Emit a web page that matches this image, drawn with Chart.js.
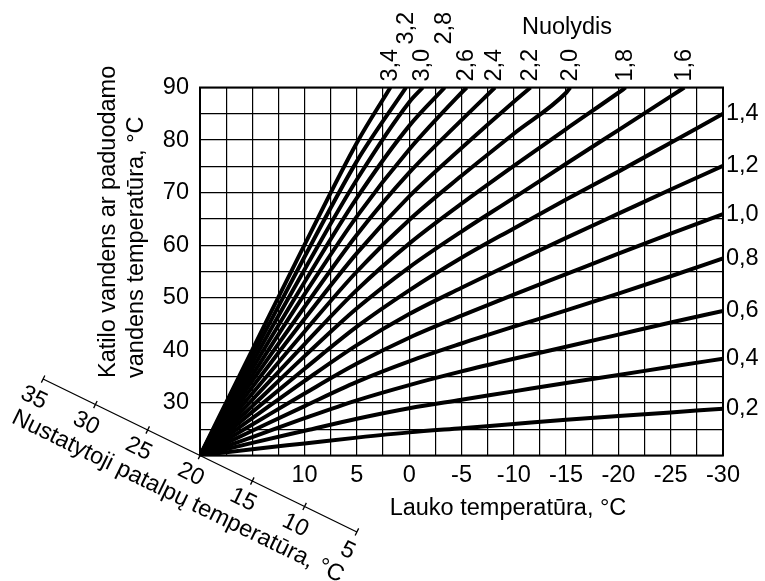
<!DOCTYPE html>
<html>
<head>
<meta charset="utf-8">
<script src="https://cdn.jsdelivr.net/npm/chart.js@4.4.1/dist/chart.umd.min.js"></script>
<style>
  body { margin: 0; background: #fff; }
</style>
</head>
<body>
<canvas id="kreives" width="765" height="581"></canvas>
<script>
// lauko temperatura, °C (x asis)
const lauko = [20, 15, 10, 5, 0, -5, -10, -15, -20, -25, -30];

// paduodamo vandens temperatura kiekvienam nuolydziui, °C (nuskaityta is grafiko)
const v02 = [20, 21.2, 22.3, 23.4, 24.4, 25.2, 26.0, 26.8, 27.5, 28.2, 28.9];
const v04 = [20, 22.4, 24.7, 27.0, 29.0, 30.6, 32.2, 33.8, 35.3, 36.9, 38.4];
const v06 = [20, 23.5, 27.1, 30.5, 33.4, 36.0, 38.4, 40.7, 43.0, 45.3, 47.5];
const v08 = [20, 24.7, 29.4, 34.0, 37.9, 41.3, 44.5, 47.6, 50.8, 54.1, 57.5];
const v10 = [20, 25.9, 31.8, 37.5, 42.4, 46.6, 50.6, 54.5, 58.4, 62.2, 65.9];
const v12 = [20, 27.1, 34.2, 41.0, 46.9, 51.9, 56.7, 61.4, 66.0, 70.6, 75.1];
const v14 = [20, 28.3, 36.5, 44.5, 51.4, 57.6, 63.2, 68.7, 74.0, 79.5, 85.0];
const v16 = [20, 29.4, 38.9, 48.0, 55.8, 62.6, 69.0, 75.5, 81.9, 88.3];
const v18 = [20, 30.6, 41.2, 51.5, 60.3, 67.9, 75.1, 82.1, 89.0];
const v20 = [20, 31.8, 43.6, 55.0, 64.8, 73.2, 81.2, 89.0];
const v22 = [20, 33.0, 46.0, 58.5, 69.3, 78.5, 87.3];
const v24 = [20, 34.2, 48.3, 62.0, 73.8, 83.8];
const v26 = [20, 35.3, 50.7, 65.5, 78.2, 89.0];
const v28 = [20, 36.5, 53.0, 69.0, 82.7];
const v30 = [20, 37.7, 55.4, 72.5, 87.2];
const v32 = [20, 38.9, 57.8, 76.0];
const v34 = [20, 40.1, 60.1, 79.5];

// lauko temperatura, kai kreive pasiekia 90 °C (null - nepasiekia)
const galai = [null, null, null, null, null, null, null, -26.3, -20.7, -15.4, -11.6, -8.2, -5.5, -3.4, -1.3, 0.3, 1.8];

const nuolydziai = ['0,2', '0,4', '0,6', '0,8', '1,0', '1,2', '1,4', '1,6', '1,8',
                    '2,0', '2,2', '2,4', '2,6', '2,8', '3,0', '3,2', '3,4'];
const kreives = [v02, v04, v06, v08, v10, v12, v14, v16, v18, v20, v22, v24, v26, v28, v30, v32, v34];

// nustatytoji patalpu temperatura (istrizine asis)
const patalpos = [35, 30, 25, 20, 15, 10, 5];

const FONT = '"Liberation Sans", Arial, sans-serif';
const DYDIS = 23.5;

const datasets = kreives.map((vals, i) => {
  const pts = vals.map((v, j) => ({ x: lauko[j], y: v }));
  if (galai[i] !== null) pts.push({ x: galai[i], y: 90 });
  return {
    label: nuolydziai[i],
    data: pts,
    borderColor: '#000',
    borderWidth: 4,
    pointRadius: 0,
    fill: false,
    cubicInterpolationMode: 'monotone'
  };
});

// uzrasai, remelis ir istrizine asis
const zymes = {
  id: 'zymes',
  afterDatasetsDraw(chart) {
    const { ctx, chartArea: a, scales: { x, y } } = chart;
    ctx.save();
    ctx.fillStyle = '#000';
    ctx.strokeStyle = '#000';
    ctx.font = DYDIS + 'px ' + FONT;

    // remelis
    ctx.lineWidth = 2;
    ctx.strokeRect(a.left, a.top, a.right - a.left, a.bottom - a.top);

    // nuolydziu uzrasai
    const virsus = [];
    chart.data.datasets.forEach((ds, i) => {
      const meta = chart.getDatasetMeta(i);
      const p = meta.data[meta.data.length - 1];
      if (galai[i] !== null) {
        virsus.push({ t: ds.label, px: p.x });
      } else {
        ctx.textAlign = 'left';
        ctx.textBaseline = 'middle';
        ctx.fillText(ds.label, a.right + 3, p.y);
      }
    });
    virsus.sort((p, q) => p.px - q.px);
    let paskutinis = -1000;
    virsus.forEach(v => {
      let y0 = a.top - 6;
      if (v.px - paskutinis < 25) {
        y0 = a.top - 43;
      } else {
        paskutinis = v.px;
      }
      ctx.save();
      ctx.translate(v.px, y0);
      ctx.rotate(-Math.PI / 2);
      ctx.textAlign = 'left';
      ctx.textBaseline = 'middle';
      ctx.fillText(v.t, 0, 0);
      ctx.restore();
    });

    ctx.textAlign = 'center';
    ctx.textBaseline = 'alphabetic';
    ctx.fillText('Nuolydis', 567, a.top - 54);

    // x asies pavadinimas
    ctx.fillText('Lauko temperatūra, °C', a.left + 308, a.bottom + 59.5);

    // y asies pavadinimas
    ctx.save();
    ctx.translate(a.left - 85, a.bottom - 77.5);
    ctx.rotate(-Math.PI / 2);
    ctx.textAlign = 'left';
    ctx.fillText('Katilo vandens ar paduodamo', 0, 0);
    ctx.fillText('vandens temperatūra, °C', 0, 28);
    ctx.restore();

    // istrizine patalpu temperaturos asis
    const taskas = r => ({ x: x.getPixelForValue(r), y: y.getPixelForValue(20 + (r - 20) * 0.97) });
    const p0 = taskas(patalpos[0]);
    const p1 = taskas(patalpos[patalpos.length - 1]);
    const ilgis = Math.hypot(p1.x - p0.x, p1.y - p0.y);
    const ux = (p1.x - p0.x) / ilgis, uy = (p1.y - p0.y) / ilgis;
    const nx = -uy, ny = ux;
    const kampas = Math.atan2(uy, ux);

    ctx.lineWidth = 1.3;
    ctx.beginPath();
    ctx.moveTo(p0.x, p0.y);
    ctx.lineTo(p1.x, p1.y);
    patalpos.forEach(r => {
      const p = taskas(r);
      ctx.moveTo(p.x - 4 * nx, p.y - 4 * ny);
      ctx.lineTo(p.x + 4 * nx, p.y + 4 * ny);
    });
    ctx.stroke();

    ctx.textAlign = 'center';
    ctx.textBaseline = 'middle';
    patalpos.forEach(r => {
      const p = taskas(r);
      ctx.save();
      ctx.translate(p.x + 21 * nx, p.y + 21 * ny);
      ctx.rotate(kampas);
      ctx.fillText(String(r), 0, 0);
      ctx.restore();
    });

    const c = taskas(20);
    ctx.save();
    ctx.translate(c.x + 46.7 * nx - 2 * ux, c.y + 46.7 * ny - 2 * uy);
    ctx.rotate(kampas);
    ctx.fillText('Nustatytoji patalpų temperatūra, °C', 0, 0);
    ctx.restore();

    ctx.restore();
  }
};

new Chart(document.getElementById('kreives').getContext('2d'), {
  type: 'line',
  data: { datasets: datasets },
  plugins: [zymes],
  options: {
    responsive: false,
    animation: false,
    layout: { padding: { top: 87.5, right: 42, left: 0, bottom: 0 } },
    plugins: { legend: { display: false }, tooltip: { enabled: false } },
    scales: {
      x: {
        type: 'linear',
        reverse: true,
        min: -30,
        max: 20,
        afterFit: s => { s.height = 125.5; },
        grid: { color: '#000', lineWidth: 1.2, drawTicks: false },
        border: { display: false },
        ticks: {
          stepSize: 2.5,
          autoSkip: false,
          maxRotation: 0,
          minRotation: 0,
          padding: 6,
          color: '#000',
          font: { family: FONT, size: DYDIS },
          callback: v => (Math.abs(v % 5) < 1e-6 && v <= 10) ? String(v) : ''
        }
      },
      y: {
        min: 20,
        max: 90,
        afterFit: s => { s.width = 200; },
        grid: { color: '#000', lineWidth: 1.2, drawTicks: false },
        border: { display: false },
        ticks: {
          stepSize: 5,
          autoSkip: false,
          padding: 11,
          color: '#000',
          font: { family: FONT, size: DYDIS },
          callback: v => (v % 10 === 0 && v >= 30) ? String(v) : ''
        }
      }
    }
  }
});
</script>
</body>
</html>
